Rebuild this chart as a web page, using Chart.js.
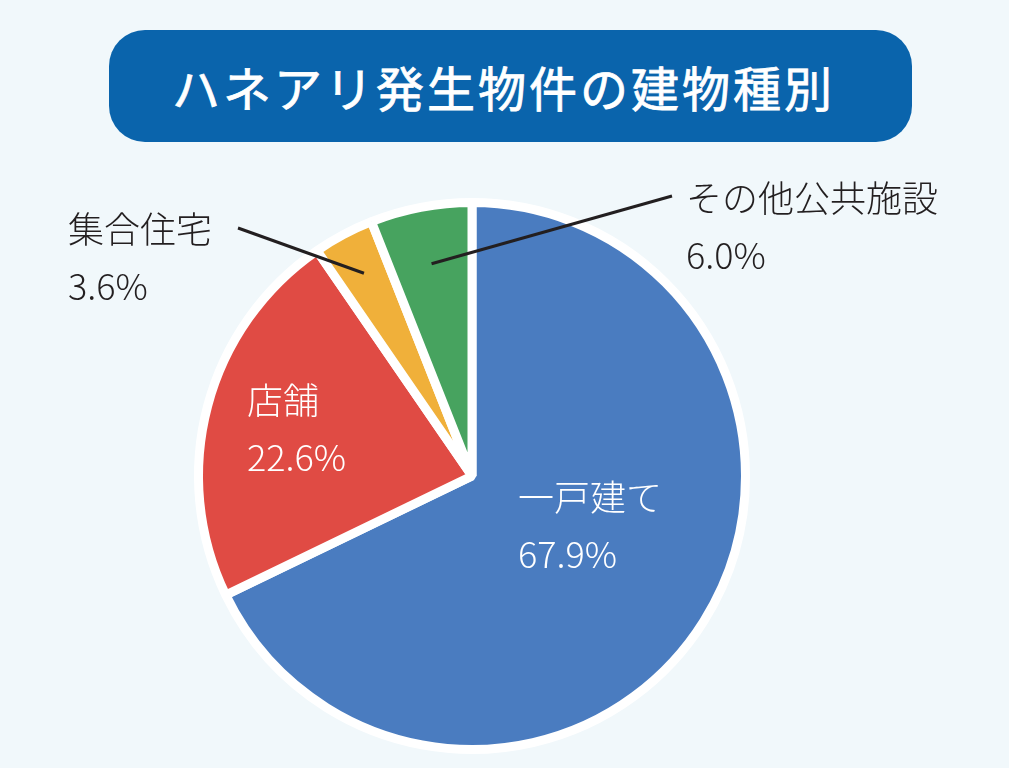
<!DOCTYPE html>
<html lang="ja">
<head>
<meta charset="utf-8">
<title>ハネアリ発生物件の建物種別</title>
<script src="https://cdn.jsdelivr.net/npm/chart.js@4.4.1/dist/chart.umd.min.js"></script>
<style>
  html, body { margin: 0; padding: 0; background: #f1f8fb; }
  .page { position: relative; width: 1009px; height: 768px; overflow: hidden; }
  .title {
    position: absolute; left: 109px; top: 30px; width: 803px; height: 112px;
    border-radius: 36px; background: #0a64ac; color: #fff;
    font-family: "Noto Sans CJK JP", sans-serif; font-weight: 400;
    -webkit-text-stroke: 0.8px #fff;
    font-size: 48px; letter-spacing: 3px; line-height: 112px;
    text-align: center; box-sizing: border-box; padding-right: 14px;
  }
  .chart-box { position: absolute; left: 0; top: 0; width: 1009px; height: 768px; }
</style>
</head>
<body>
<div class="page">
  <div class="chart-box"><canvas id="typeChart"></canvas></div>
  <div class="title">ハネアリ発生物件の建物種別</div>
</div>
<script>
// data
const categories = ["一戸建て", "店舗", "集合住宅", "その他公共施設"]
const shares = [67.9, 22.6, 3.6, 6.0]
const sliceColors = ["#4a7cc0", "#e04b44", "#f0b03a", "#47a35f"]

// where the labels sit, relative to the pie centre
const labelPlaces = [
  { inside: true, x: 46, y: 21 },
  { inside: true, x: -225, y: -76 },
  { x: -404, y: -247, lineFrom: 0.84, lineTo: [-234, -248] },
  { x: 214, y: -278, lineFrom: 0.79, lineTo: [200, -280] },
]

const sliceLabels = {
  id: "sliceLabels",
  afterDatasetsDraw(chart) {
    const ctx = chart.ctx
    const meta = chart.getDatasetMeta(0)
    meta.data.forEach((arc, i) => {
      const place = labelPlaces[i]
      const cx = arc.x
      const cy = arc.y
      const mid = (arc.startAngle + arc.endAngle) / 2
      ctx.save()
      if (!place.inside) {
        const r = arc.outerRadius * place.lineFrom
        ctx.beginPath()
        ctx.moveTo(cx + Math.cos(mid) * r, cy + Math.sin(mid) * r)
        ctx.lineTo(cx + place.lineTo[0], cy + place.lineTo[1])
        ctx.strokeStyle = "#231f20"
        ctx.lineWidth = 3
        ctx.stroke()
      }
      ctx.fillStyle = place.inside ? "#ffffff" : "#231f20"
      ctx.font = '300 36px "Noto Sans CJK JP", sans-serif'
      ctx.textAlign = "left"
      ctx.textBaseline = "middle"
      ctx.fillText(categories[i], cx + place.x, cy + place.y)
      ctx.fillText(shares[i].toFixed(1) + "%", cx + place.x, cy + place.y + 57)
      ctx.restore()
    })
  },
}

const ctx = document.getElementById("typeChart").getContext("2d")
const typeChart = new Chart(ctx, {
  type: "pie",
  data: {
    labels: categories,
    datasets: [
      {
        data: shares,
        backgroundColor: sliceColors,
        borderColor: "#ffffff",
        borderWidth: 9,
      },
    ],
  },
  options: {
    responsive: true,
    maintainAspectRatio: false,
    animation: false,
    layout: {
      padding: { left: 194, right: 259, top: 198, bottom: 14 },
    },
    plugins: {
      legend: { display: false },
      tooltip: { enabled: false },
      title: { display: false },
    },
  },
  plugins: [sliceLabels],
})
</script>
</body>
</html>
